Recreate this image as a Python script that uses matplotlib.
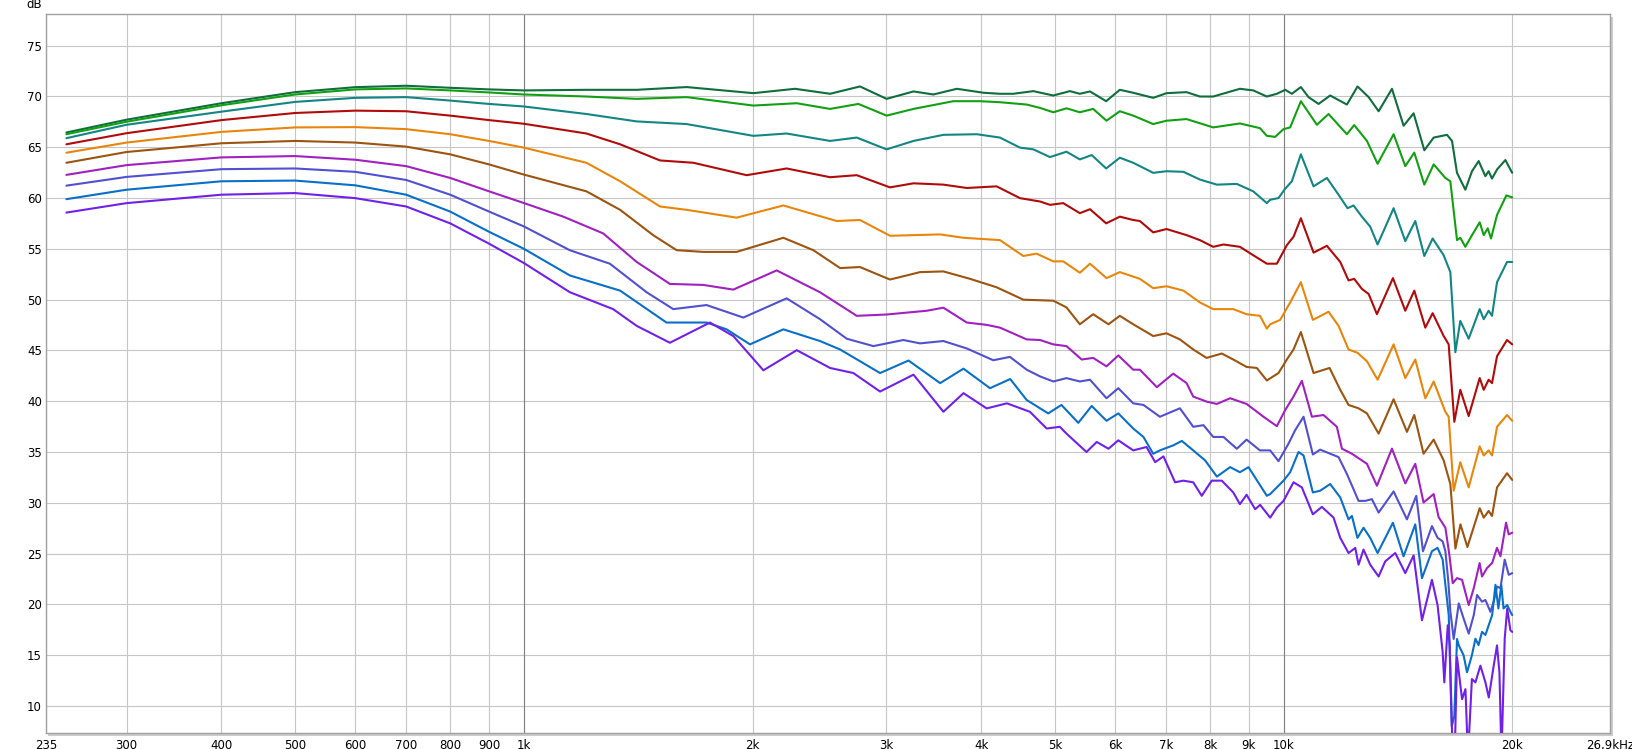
import matplotlib
matplotlib.use("Agg")
import matplotlib.pyplot as plt
from matplotlib.patches import Rectangle
from matplotlib.ticker import NullLocator

# frequency response curves, top to bottom (Hz, dB)
c1_hz = [250, 300, 400, 500, 600, 700, 800, 900, 1000, 1209, 1408, 1638, 2005, 2275, 2530, 2770, 3003, 3258, 3460, 3716, 4028,
         4234, 4409, 4685, 4977, 5233, 5394, 5563, 5842, 6089, 6341, 6737, 7015, 7454, 7761, 8081, 8762, 9124, 9507,
         9800, 10051, 10256, 10540, 10788, 11120, 11520, 12118, 12516, 12943, 13341, 13891, 14391, 14834, 15323, 15763,
         16413, 16664, 16919, 17351, 17706, 18068, 18437, 18620, 18813, 19101, 19589, 20000]
c1_db = [66.44, 67.7, 69.32, 70.41, 70.9, 71.04, 70.84, 70.68, 70.58, 70.64, 70.64, 70.91, 70.31, 70.74, 70.25, 70.97, 69.75, 70.48, 70.18, 70.74, 70.35,
         70.25, 70.25, 70.51, 70.08, 70.51, 70.25, 70.48, 69.52, 70.64, 70.35, 69.85, 70.31, 70.41, 69.98, 69.98, 70.74, 70.58, 69.98,
         70.25, 70.64, 70.25, 70.91, 69.92, 69.25, 70.08, 69.19, 70.97, 69.92, 68.53, 70.74, 67.1, 68.33, 64.69, 65.94,
         66.21, 65.61, 62.47, 60.81, 62.63, 63.63, 62.14, 62.63, 61.91, 62.8, 63.73, 62.47]

c2_hz = [250, 300, 400, 500, 600, 700, 800, 900, 1000, 1209, 1408, 1638, 2005, 2287, 2530, 2757, 3003, 3258, 3676, 3988,
         4234, 4591, 4781, 4977, 5180, 5394, 5616, 5848, 6089, 6341, 6737, 7015, 7454, 8081, 8762, 9310, 9507,
         9750, 10000, 10204, 10540, 11064, 11463, 12118, 12389, 12877, 13300, 13961, 14464, 14864, 15323, 15763, 16330, 16580,
         16919, 17089, 17351, 17706, 18123, 18346, 18568, 18757, 19101, 19649, 20000]
c2_db = [66.27, 67.5, 69.12, 70.18, 70.68, 70.78, 70.58, 70.38, 70.18, 69.98, 69.75, 69.92, 69.09, 69.32, 68.76, 69.25, 68.1, 68.76, 69.52, 69.52,
         69.42, 69.19, 68.86, 68.43, 68.82, 68.43, 68.76, 67.6, 68.53, 68.1, 67.27, 67.6, 67.76, 66.94, 67.33, 66.87, 66.11,
         66.01, 66.77, 66.94, 69.52, 67.2, 68.26, 66.27, 67.17, 65.61, 63.36, 66.27, 63.13, 64.46, 61.31, 63.3, 61.97, 61.64,
         55.85, 56.08, 55.19, 56.34, 57.6, 56.34, 57.01, 56.01, 58.33, 60.25, 60.05]

c3_hz = [250, 300, 400, 500, 600, 700, 800, 900, 1000, 1209, 1408, 1638, 2005, 2218, 2530, 2743, 3003, 3258, 3567, 3948,
         4234, 4499, 4685, 4927, 5180, 5394, 5591, 5842, 6089, 6341, 6737, 7015, 7384, 7761, 8171, 8680, 9124, 9507,
         9604, 9849, 10051, 10256, 10540, 10953, 11405, 11815, 12142, 12365, 12681, 13006, 13300, 13961, 14464, 14909,
         15323, 15715, 16248, 16580, 16833, 17089, 17528, 18123, 18346, 18620, 18813, 19101, 19689, 20000]
c3_db = [65.88, 67.2, 68.49, 69.45, 69.85, 69.92, 69.58, 69.25, 69.0, 68.26, 67.53, 67.27, 66.11, 66.34, 65.61, 65.94, 64.78, 65.61, 66.21, 66.27,
         65.94, 64.95, 64.78, 64.02, 64.55, 63.79, 64.22, 62.9, 63.96, 63.46, 62.47, 62.63, 62.57, 61.81, 61.31, 61.38, 60.65, 59.49,
         59.82, 59.99, 60.91, 61.64, 64.29, 61.14, 61.97, 60.32, 58.99, 59.26, 58.16, 57.17, 55.42, 58.99, 55.75, 57.73,
         54.29, 56.01, 54.36, 52.7, 44.82, 47.9, 46.15, 49.06, 48.07, 48.9, 48.4, 51.71, 53.7, 53.7]

c4_hz = [250, 300, 400, 500, 600, 700, 800, 900, 1000, 1209, 1339, 1511, 1672, 1965, 2218, 2530, 2743, 3034, 3258, 3567, 3829, 4191,
         4499, 4781, 4927, 5129, 5394, 5563, 5842, 6089, 6341, 6470, 6737, 7015, 7454, 7761, 8081, 8337, 8762, 9124, 9507,
         9800, 10101, 10308, 10540, 10953, 11405, 11876, 12179, 12389, 12681, 12943, 13273, 13933, 14464, 14864, 15369, 15715,
         16248, 16497, 16782, 17089, 17528, 18123, 18346, 18620, 18813, 19101, 19689, 20000]
c4_db = [65.28, 66.37, 67.66, 68.36, 68.59, 68.53, 68.1, 67.66, 67.3, 66.34, 65.28, 63.69, 63.46, 62.24, 62.9, 62.04, 62.24, 61.04, 61.44, 61.31, 60.98, 61.14,
         59.98, 59.65, 59.32, 59.49, 58.5, 58.89, 57.5, 58.16, 57.83, 57.73, 56.61, 56.94, 56.34, 55.85, 55.19, 55.42, 55.19, 54.36, 53.53,
         53.53, 55.35, 56.18, 58.0, 54.62, 55.29, 53.7, 51.88, 52.04, 51.05, 50.55, 48.56, 52.11, 48.9, 50.88, 47.24, 48.66,
         46.41, 45.59, 37.97, 41.12, 38.54, 42.28, 41.12, 42.11, 41.78, 44.43, 46.02, 45.59]

c5_hz = [250, 300, 400, 500, 600, 700, 800, 900, 1000, 1209, 1339, 1511, 1638, 1906, 2196, 2581, 2770, 3034, 3258, 3532, 3791,
         4234, 4544, 4731, 4977, 5129, 5394, 5563, 5848, 6089, 6470, 6737, 7015, 7384, 7761, 8081, 8587, 8941, 9310, 9507,
         9604, 9899, 10204, 10540, 10930, 11463, 11815, 12179, 12516, 12877, 13300, 13961, 14464, 14909, 15369, 15763,
         16330, 16497, 16748, 17089, 17528, 18123, 18346, 18620, 18813, 19101, 19689, 20000]
c5_db = [64.45, 65.45, 66.5, 66.94, 66.97, 66.77, 66.27, 65.61, 64.95, 63.46, 61.64, 59.16, 58.83, 58.06, 59.26, 57.73, 57.83, 56.28, 56.34, 56.41, 56.08,
         55.85, 54.29, 54.52, 53.76, 53.76, 52.64, 53.53, 52.11, 52.7, 52.04, 51.12, 51.31, 50.88, 49.72, 49.06, 49.06, 48.56, 48.4, 47.14,
         47.57, 48.0, 49.72, 51.71, 48.0, 48.8, 47.41, 45.09, 44.76, 43.93, 42.11, 45.59, 42.28, 44.1, 40.29, 41.94,
         38.96, 38.47, 31.19, 34.0, 31.52, 35.56, 34.66, 35.16, 34.66, 37.48, 38.64, 38.07]

c6_hz = [250, 300, 400, 500, 600, 700, 800, 900, 1000, 1209, 1339, 1480, 1589, 1723, 1906, 2196, 2405, 2608, 2770, 3034, 3323, 3567, 3867, 4191,
         4544, 4977, 5180, 5394, 5616, 5883, 6089, 6341, 6737, 7015, 7305, 7606, 7920, 8294, 8587, 8941, 9223, 9507,
         9849, 10101, 10308, 10540, 10953, 11498, 11876, 12179, 12554, 12877, 13341, 13961, 14537, 14864, 15287, 15763,
         16248, 16580, 16837, 17096, 17460, 18123, 18346, 18620, 18813, 19101, 19689, 20000]
c6_db = [63.46, 64.52, 65.38, 65.61, 65.45, 65.05, 64.29, 63.3, 62.3, 60.65, 58.83, 56.34, 54.86, 54.69, 54.69, 56.08, 54.86, 53.1, 53.2, 51.97, 52.7, 52.77, 52.04, 51.21,
         49.99, 49.89, 49.23, 47.57, 48.56, 47.57, 48.4, 47.57, 46.41, 46.68, 46.08, 45.09, 44.26, 44.69, 44.1, 43.37, 43.27, 42.04,
         42.77, 44.1, 45.09, 46.81, 42.77, 43.27, 41.12, 39.63, 39.3, 38.8, 36.81, 40.19, 36.98, 38.64, 34.83, 36.22,
         34.17, 31.85, 25.5, 27.88, 25.65, 29.47, 28.54, 29.2, 28.7, 31.52, 32.91, 32.25]

c7_hz = [250, 300, 400, 500, 600, 700, 800, 900, 1000, 1127, 1272, 1408, 1557, 1723, 1887, 2152, 2454, 2743, 3003, 3392, 3567, 3829, 4067,
         4234, 4591, 4781, 4977, 5180, 5424, 5616, 5848, 6061, 6341, 6470, 6812, 7158, 7454, 7606, 7920, 8171, 8505, 8941, 9411,
         9800, 10051, 10308, 10572, 10898, 11289, 11755, 11936, 12303, 12877, 13273, 13891, 14464, 14909, 15287, 15763,
         16000, 16333, 16530, 16700, 16920, 17180, 17530, 17800, 18120, 18250, 18530, 18820, 19100, 19300, 19630, 19790, 20000]
c7_db = [62.27, 63.23, 63.99, 64.12, 63.76, 63.13, 61.97, 60.65, 59.5, 58.16, 56.51, 53.7, 51.54, 51.44, 50.98, 52.87, 50.72, 48.4, 48.53, 48.9, 49.2, 47.74, 47.51,
         47.24, 46.08, 46.02, 45.59, 45.42, 44.1, 44.26, 43.43, 44.5, 43.1, 43.1, 41.38, 42.71, 41.78, 40.45, 39.96, 39.73, 40.29, 39.73, 38.47,
         37.54, 39.13, 40.46, 42.0, 38.47, 38.64, 37.48, 35.33, 34.83, 33.84, 31.68, 35.33, 31.91, 33.84, 30.03, 30.86,
         28.6, 27.55, 24.9, 22.09, 22.59, 22.42, 19.94, 21.6, 24.07, 22.75, 23.58, 24.08, 25.57, 24.74, 28.05, 26.89, 27.06]

c8_hz = [250, 300, 400, 500, 600, 700, 800, 900, 1000, 1150, 1298, 1451, 1573, 1740, 1945, 2218, 2454, 2661, 2885, 3159, 3323, 3567, 3829, 4149,
         4364, 4591, 4781, 4977, 5180, 5394, 5563, 5848, 6061, 6341, 6541, 6875, 7305, 7606, 7846, 8081, 8337, 8680, 8941, 9310,
         9604, 9849, 10153, 10360, 10626, 10930, 11176, 11815, 12118, 12554, 12812, 13072, 13341, 13961, 14537, 14955, 15261, 15682,
         15950, 16200, 16333, 16480, 16583, 16750, 17010, 17260, 17530, 17800, 17980, 18250, 18440, 18720, 18910, 19100, 19300,
         19550, 19790, 20000]
c8_db = [61.21, 62.07, 62.83, 62.9, 62.57, 61.77, 60.32, 58.66, 57.2, 54.85, 53.53, 50.72, 49.06, 49.46, 48.23, 50.12, 48.07, 46.15, 45.42, 46.02, 45.69, 45.92, 45.19, 44.03,
         44.36, 43.1, 42.44, 41.94, 42.27, 41.94, 42.11, 40.29, 41.28, 39.79, 39.63, 38.47, 39.3, 37.48, 37.64, 36.48, 36.48, 35.32, 36.22, 35.16,
         35.16, 34.1, 35.82, 37.15, 38.47, 34.76, 35.23, 34.5, 32.84, 30.19, 30.19, 30.36, 29.04, 31.12, 28.37, 30.69, 25.23, 27.71,
         26.56, 26.2, 25.24, 22.26, 19.28, 16.6, 20.1, 18.62, 17.13, 18.95, 20.93, 20.27, 20.44, 19.28, 20.27, 21.76, 21.6,
         24.41, 22.92, 23.08]

c9_hz = [250, 300, 400, 500, 600, 700, 800, 900, 1000, 1150, 1339, 1541, 1740, 1849, 1985, 2196, 2454, 2608, 2944, 3209, 3532, 3791, 4108,
         4368, 4591, 4901, 5101, 5369, 5591, 5848, 6061, 6341, 6541, 6737, 6875, 7158, 7347, 7606, 7886, 8171, 8505, 8762, 8993, 9507,
         9604, 10000, 10204, 10465, 10626, 10930, 11176, 11520, 11876, 12179, 12303, 12512, 12745, 13005, 13300, 13933, 14388, 14909,
         15214, 15682, 15950, 16200, 16333, 16500, 16650, 16780, 16920, 17010, 17260, 17440, 17700, 17890, 18060, 18250, 18440,
         18820, 19010, 19180, 19350, 19480, 19700, 19890, 20000]
c9_db = [59.88, 60.81, 61.64, 61.71, 61.24, 60.32, 58.66, 56.67, 55.0, 52.37, 50.88, 47.74, 47.74, 47.07, 45.59, 47.07, 45.92, 45.09, 42.77, 44.0, 41.78, 43.2, 41.28,
         42.18, 40.12, 38.8, 39.63, 37.87, 39.53, 38.07, 38.8, 37.31, 36.48, 34.83, 35.16, 35.65, 36.09, 35.16, 34.17, 32.58, 33.51, 33.01, 33.51, 30.69,
         30.86, 32.18, 33.01, 35.0, 34.66, 31.02, 31.19, 31.85, 30.53, 28.37, 28.71, 26.55, 27.55, 26.55, 25.06, 28.04, 24.73, 27.88,
         22.58, 25.24, 25.57, 24.41, 21.93, 18.95, 8.0, 9.0, 16.6, 15.97, 15.0, 13.32, 15.0, 16.63, 16.0, 17.3, 17.0,
         18.95, 21.93, 19.6, 21.93, 19.6, 19.94, 19.28, 18.95]

c10_hz = [250, 300, 400, 500, 600, 700, 800, 900, 1000, 1150, 1311, 1408, 1557, 1758, 1887, 2067, 2287, 2530, 2715, 2944, 3258, 3567, 3791, 4067, 4324,
          4636, 4878, 5076, 5180, 5504, 5677, 5883, 6061, 6341, 6602, 6778, 6949, 7199, 7379, 7606, 7805, 8044, 8294, 8587, 8762, 8941, 9177, 9316,
          9604, 9800, 10000, 10308, 10572, 10930, 11233, 11638, 11876, 12179, 12430, 12554, 12745, 13005, 13341, 13612, 14031, 14464, 14834,
          15214, 15682, 15950, 16200, 16280, 16450, 16550, 16700, 16800, 16920, 17180, 17358, 17490, 17700, 17888, 18162, 18440, 18630,
          18910, 19100, 19240, 19360, 19550, 19700, 19890, 20000]
c10_db = [58.56, 59.49, 60.32, 60.48, 59.98, 59.16, 57.5, 55.5, 53.6, 50.72, 49.06, 47.41, 45.75, 47.74, 46.41, 43.04, 45.02, 43.27, 42.77, 40.95, 42.61, 38.96, 40.79, 39.29, 39.79,
          38.96, 37.31, 37.48, 36.81, 35.0, 35.99, 35.32, 36.15, 35.16, 35.49, 34.0, 34.57, 32.02, 32.18, 32.02, 30.69, 32.18, 32.18, 31.02, 29.87, 30.79, 29.37, 29.8,
          28.54, 29.53, 30.19, 32.02, 31.52, 28.87, 29.6, 28.54, 26.55, 25.06, 25.56, 23.91, 25.4, 23.91, 22.75, 24.24, 25.06, 23.08, 24.83,
          18.44, 22.42, 19.94, 15.3, 12.33, 17.95, 15.97, 5.0, 5.0, 14.8, 10.67, 11.67, 5.0, 12.66, 12.33, 13.98, 12.33, 10.84,
          13.98, 15.97, 13.32, 5.0, 16.63, 19.6, 17.46, 17.3]

colors = ['#0f6e3c', '#12a012', '#138585', '#b00a0a', '#e8860c',
          '#9c5410', '#a020c0', '#5050d0', '#0a6fc8', '#7020e8']

x_ticks = [235, 300, 400, 500, 600, 700, 800, 900, 1000, 2000, 3000, 4000, 5000,
           6000, 7000, 8000, 9000, 10000, 20000, 26900]
x_labels = ['235', '300', '400', '500', '600', '700', '800', '900', '1k', '2k', '3k', '4k', '5k',
            '6k', '7k', '8k', '9k', '10k', '20k', '26,9kHz']
y_ticks = list(range(10, 80, 5))

W, H = 1633, 749
fig = plt.figure(figsize=(W / 100, H / 100), dpi=100)
ax = fig.add_axes([46 / W, 16 / H, 1564 / W, 719 / H])

# soft shadow under the plot frame
fig.patches.append(Rectangle((48 / W, 13 / H), 1565 / W, 719 / H, transform=fig.transFigure,
                             facecolor='#cccccc', edgecolor='none', zorder=-1))

curves = [(c1_hz, c1_db), (c2_hz, c2_db), (c3_hz, c3_db), (c4_hz, c4_db), (c5_hz, c5_db),
          (c6_hz, c6_db), (c7_hz, c7_db), (c8_hz, c8_db), (c9_hz, c9_db), (c10_hz, c10_db)]
for (hz, db), col in zip(curves, colors):
    ax.plot(hz, db, color=col, lw=1.5, solid_joinstyle='round', solid_capstyle='round', zorder=3)

ax.set_xscale('log')
ax.set_xlim(235, 26900)
ax.set_ylim(7.35, 78.1)
ax.set_xticks(x_ticks)
ax.set_xticklabels(x_labels)
ax.xaxis.set_minor_locator(NullLocator())
ax.set_yticks(y_ticks)
ax.tick_params(length=0, labelsize=8.5, pad=3)
ax.tick_params(axis='x', pad=4)
ax.grid(True, color='#c6c6c6', lw=0.8)
ax.set_axisbelow(True)
for f in (1000, 10000):
    ax.axvline(f, color='#808080', lw=0.8, zorder=1)
for s in ax.spines.values():
    s.set_color('#a0a0a0')
    s.set_linewidth(1)

fig.text(42 / W, 1 - 5 / H, 'dB', ha='right', va='center', fontsize=8.5)

fig.savefig('out.png', dpi=100)
